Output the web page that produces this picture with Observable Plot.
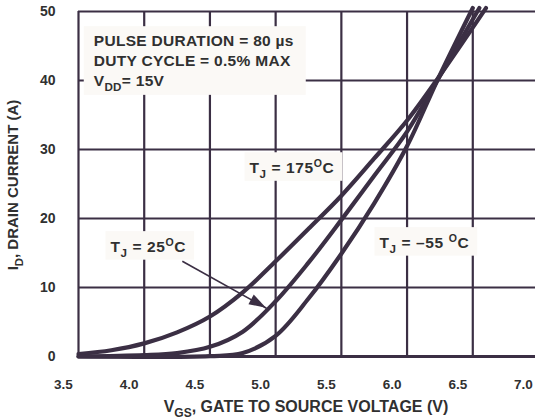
<!DOCTYPE html>
<html><head><meta charset="utf-8">
<script src="https://cdn.jsdelivr.net/npm/d3@7"></script>
<script src="https://cdn.jsdelivr.net/npm/@observablehq/plot@0.6"></script>
<style>html,body{margin:0;padding:0;background:#fff;overflow:hidden} svg{display:block}</style>
</head><body><div id="chart"></div>
<script>
// ---- data ----
const xTicks = [3.5, 4.0, 4.5, 5.0, 5.5, 6.0, 6.5, 7.0];
const yTicks = [0, 10, 20, 30, 40, 50];
const seriesNames = ["175", "25", "-55"];
const vgs175 = [3.5, 3.75, 4.0, 4.25, 4.5, 4.75, 5.0, 5.25, 5.5, 5.75, 6.0, 6.23, 6.6];
const id175  = [0.35, 0.9, 1.9, 3.5, 5.8, 9.3, 13.8, 18.5, 23.3, 28.7, 34.2, 40.2, 50.5];
const vgs25  = [3.5, 4.0, 4.25, 4.5, 4.75, 5.0, 5.25, 5.5, 5.75, 6.0, 6.23, 6.55];
const id25   = [0.0, 0.2, 0.5, 1.4, 3.6, 8.0, 13.6, 19.8, 26.2, 32.6, 40.0, 50.5];
const vgsM55 = [3.5, 4.5, 4.75, 5.0, 5.25, 5.5, 5.75, 6.0, 6.23, 6.5];
const idM55  = [0.0, 0.05, 0.5, 3.0, 8.4, 14.9, 22.2, 30.5, 40.0, 50.5];
// annotation text
const noteLines = [
  [["PULSE DURATION = 80 "], ["µs"]],
  [["DUTY CYCLE = 0.5% MAX"]],
  [["V"], ["DD", "sub"], ["= 15V"]]
];
const noteVgs = 3.62;
const noteId = [44.9, 42.0, 39.1];
const curveLabels = [
  [["T"], ["J", "sub"], [" = 175"], ["O", "sup"], ["C"]],
  [["T"], ["J", "sub"], [" = 25"], ["O", "sup"], ["C"]],
  [["T"], ["J", "sub"], [" = –55 "], ["O", "sup"], ["C"]]
];
const curveLabelVgs = [4.805, 3.747, 5.794];
const curveLabelId = [26.5, 15.07, 15.65];
const arrowVgs = [4.29, 4.93];
const arrowId = [13.8, 7.0];
const xTitle = [["V"], ["GS", "sub"], [", GATE TO SOURCE VOLTAGE (V)"]];
const yTitle = [["I"], ["D", "sub"], [", DRAIN CURRENT (A)"]];

// ---- build table ----
const rows = [];
[[vgs175, id175], [vgs25, id25], [vgsM55, idM55]].forEach(([xs, ys], k) => {
  xs.forEach((v, i) => rows.push({vgs: v, id: ys[i], series: seriesNames[k]}));
});
const arrowRow = [{x1: arrowVgs[0], y1: arrowId[0], x2: arrowVgs[1], y2: arrowId[1]}];

const ink = "#3b2f44";
const txt = "#303030";
const font = "'Liberation Sans', Arial, Helvetica, sans-serif";

const plot = Plot.plot({
  width: 535, height: 419,
  marginLeft: 78, marginRight: -3, marginTop: 11, marginBottom: 63,
  x: {domain: [3.5, 7.0], axis: null},
  y: {domain: [0, 50], axis: null},
  style: {fontFamily: font, fontWeight: "bold", color: txt, background: "#fff", overflow: "visible"},
  marks: [
    Plot.ruleX(xTicks, {x: d => d, stroke: ink, strokeWidth: 2.2, strokeOpacity: 1}),
    Plot.ruleY(yTicks, {y: d => d, stroke: ink, strokeWidth: 2.2, strokeOpacity: 1}),
    Plot.ruleY([0], {y: d => d, stroke: ink, strokeWidth: 3.2, strokeOpacity: 1}),
    Plot.text(xTicks, {x: d => d, y: 0, text: d => d.toFixed(1), dy: 28, dx: -15, fontSize: 13.5, fill: txt, fontWeight: "bold"}),
    Plot.text(yTicks, {x: 3.5, y: d => d, text: d => String(d), dx: -23, textAnchor: "end", fontSize: 14, fill: txt, fontWeight: "bold"}),
    Plot.line(rows, {x: "vgs", y: "id", z: "series", curve: "catmull-rom", stroke: ink, strokeWidth: 4.2, strokeOpacity: 1}),
    Plot.link(arrowRow, {x1: "x1", y1: "y1", x2: "x2", y2: "y2", stroke: ink, strokeWidth: 1.6})
  ]
});
document.getElementById("chart").appendChild(plot);

// ---- rich-text annotations using the plot's scales ----
const X = plot.scale("x"), Y = plot.scale("y");
const svg = d3.select(plot);
const lineGroup = svg.select('g[aria-label="line"]').node();
const boxLayer = lineGroup ? svg.insert("g", () => lineGroup) : svg.append("g");
const topLayer = svg.append("g");

function rich(g, x, y, parts, size, anchor, spacing) {
  const t = g.append("text").attr("x", x).attr("y", y)
    .attr("font-family", font).attr("font-weight", "bold")
    .attr("font-size", size).attr("fill", txt)
    .attr("letter-spacing", spacing || 0)
    .attr("text-anchor", anchor || "start");
  let shift = 0;
  parts.forEach(([s, kind]) => {
    const sp = t.append("tspan").text(s);
    let target = 0;
    if (kind === "sub") { sp.attr("font-size", size * 0.75); target = size * 0.3; }
    else if (kind === "sup") { sp.attr("font-size", size * 0.68); target = -size * 0.38; }
    if (target !== shift) { sp.attr("dy", target - shift); shift = target; }
  });
  return t;
}
function boxFor(nodes, pad) {
  let x0 = Infinity, y0 = Infinity, x1 = -Infinity, y1 = -Infinity;
  nodes.forEach(n => { const b = n.node().getBBox(); x0 = Math.min(x0, b.x); y0 = Math.min(y0, b.y); x1 = Math.max(x1, b.x + b.width); y1 = Math.max(y1, b.y + b.height); });
  boxLayer.append("rect").attr("x", x0 - pad[0]).attr("y", y0 - pad[1])
    .attr("width", x1 - x0 + pad[0] + pad[2]).attr("height", y1 - y0 + pad[1] + pad[3])
    .attr("fill", "#fbf9f6");
}
const noteNodes = noteLines.map((p, i) => rich(topLayer, X.apply(noteVgs), Y.apply(noteId[i]), p, 15.5, "start", 0.3));
boxFor(noteNodes, [10, 6, 12, 2]);
curveLabels.forEach((p, i) => {
  const n = rich(topLayer, X.apply(curveLabelVgs[i]), Y.apply(curveLabelId[i]), p, 15.5, "start", 0.6);
  boxFor([n], [5, 5, 8, 1]);
});
// arrow head
{
  const tx = X.apply(arrowVgs[1]), ty = Y.apply(arrowId[1]);
  const sx = X.apply(arrowVgs[0]), sy = Y.apply(arrowId[0]);
  const a = Math.atan2(ty - sy, tx - sx), L = 17, W = 5.5;
  const bx = tx - L * Math.cos(a), by = ty - L * Math.sin(a);
  const px = -Math.sin(a) * W, py = Math.cos(a) * W;
  topLayer.append("path").attr("d", `M${tx},${ty}L${bx + px},${by + py}L${bx - px},${by - py}Z`).attr("fill", ink);
}
// axis titles
rich(topLayer, 306, 412, xTitle, 16, "middle");
const yt = topLayer.append("g").attr("transform", "translate(18,185) rotate(-90)");
rich(yt, 0, 0, yTitle, 15, "middle");
</script>
</body></html>
